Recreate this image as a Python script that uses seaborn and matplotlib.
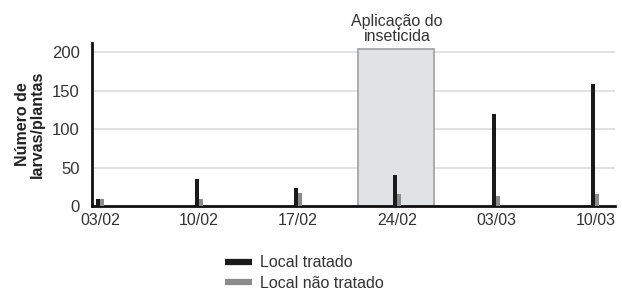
import pandas as pd
import matplotlib.pyplot as plt
import matplotlib.patches as mpatches
from matplotlib.lines import Line2D
import seaborn as sns

# Dados
datas = ['03/02', '10/02', '17/02', '24/02', '03/03', '10/03']
tratado = [9, 35, 23, 41, 120, 159]
nao_tratado = [9, 9, 17, 15, 13, 15]
series = ['Local tratado', 'Local não tratado']
cores = ['#1a1a1a', '#8c8c8c']

data = pd.DataFrame({
    'Data': datas * 2,
    'Valor': tratado + nao_tratado,
    'Serie': [series[0]] * len(datas) + [series[1]] * len(datas),
})

sns.set_style('white')
plt.rcParams['font.family'] = ['Liberation Sans', 'DejaVu Sans']

fig = plt.figure(figsize=(6.22, 2.91), dpi=100)
ax = fig.add_axes([0.148, 0.292, 0.841, 0.56])

# faixa da aplicação do inseticida
ax.add_patch(mpatches.Rectangle((2.6, 0), 0.77, 204, facecolor='#e1e2e4',
                                edgecolor='#a0a0a0', linewidth=1.2, zorder=1))
ax.text(3.0, 211, 'Aplicação do\ninseticida', ha='center', va='bottom',
        fontsize=11.5, color='#333333', linespacing=1.0)

sns.barplot(data=data, x='Data', y='Valor', hue='Serie', palette=cores,
            width=0.08, gap=0, dodge=True, legend=False, ax=ax, zorder=3,
            linewidth=0, edgecolor='none', saturation=1)

ax.set_xlim(-0.08, 5.2)
ax.set_ylim(0, 212)
ax.set_yticks([0, 50, 100, 150, 200])
ax.yaxis.grid(True, color='#dcdcdc', linewidth=1.2, zorder=0)
ax.set_axisbelow(True)
ax.set_xlabel('')
ax.set_ylabel('Número de\nlarvas/plantas', fontsize=11.5, fontweight='bold',
              labelpad=5, linespacing=1.0, color='#222222')
ax.tick_params(axis='y', length=0, labelsize=12, colors='#333333', pad=9)
ax.tick_params(axis='x', length=0, labelsize=11.5, colors='#333333', pad=5)

for s in ['top', 'right']:
    ax.spines[s].set_visible(False)
for s in ['left', 'bottom']:
    ax.spines[s].set_color('#111111')
    ax.spines[s].set_linewidth(2)
ax.spines['left'].set_bounds(0, 212)

handles = [Line2D([0], [0], color=c, linewidth=4.5, solid_capstyle='butt')
           for c in cores]
fig.legend(handles, series, loc='upper left', bbox_to_anchor=(0.352, 0.145),
           frameon=False, fontsize=11.5, handlelength=1.7, handletextpad=0.5,
           labelspacing=0.35, borderaxespad=0, labelcolor='#333333')

plt.savefig('out.png', dpi=100)
